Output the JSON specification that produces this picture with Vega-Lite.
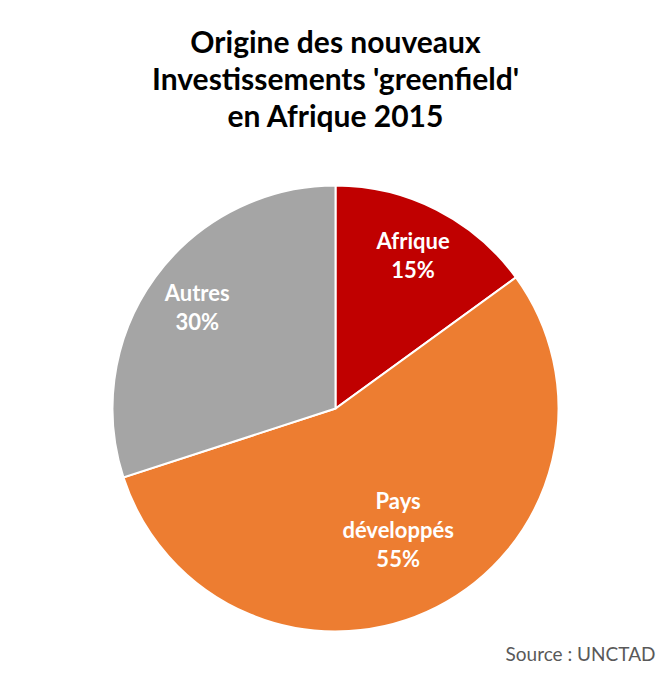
{
  "$schema": "https://vega.github.io/schema/vega-lite/v6.json",
  "autosize": {"type": "none"},
  "width": 447,
  "height": 447,
  "padding": {"left": 112, "top": 185, "right": 104, "bottom": 50},
  "background": "white",
  "config": {"view": {"stroke": null}},
  "title": {
    "text": ["Origine des nouveaux", "Investissements 'greenfield'", "en Afrique 2015"],
    "font": "Lato",
    "fontSize": 30,
    "fontWeight": "bold",
    "color": "#000000",
    "lineHeight": 37,
    "anchor": "middle",
    "offset": 49
  },
  "data": {
    "values": [
      {"cat": "Afrique", "value": 15, "rank": 1, "label": "Afrique\n15%"},
      {"cat": "Pays développés", "value": 55, "rank": 2, "label": "Pays\ndéveloppés\n55%"},
      {"cat": "Autres", "value": 30, "rank": 3, "label": "Autres\n30%"}
    ]
  },
  "layer": [
    {
      "mark": {"type": "arc", "radius": 223, "stroke": "white", "strokeWidth": 2},
      "encoding": {
        "theta": {"field": "value", "type": "quantitative", "stack": true},
        "order": {"field": "rank", "type": "quantitative"},
        "color": {
          "field": "cat",
          "type": "nominal",
          "scale": {"domain": ["Afrique", "Pays développés", "Autres"], "range": ["#C00000", "#ED7D31", "#A5A5A5"]},
          "legend": null
        }
      }
    },
    {
      "mark": {"type": "text", "font": "Lato", "fontSize": 22, "fontWeight": "bold", "fill": "white", "lineBreak": "\n", "lineHeight": 29, "align": "center", "baseline": "middle", "radius": 171, "dy": -14},
      "encoding": {
        "theta": {"field": "value", "type": "quantitative", "stack": true},
        "order": {"field": "rank", "type": "quantitative"},
        "opacity": {"condition": {"test": "datum.cat === 'Pays développés'", "value": 0}, "value": 1},
        "text": {"field": "label", "type": "nominal"}
      }
    },
    {
      "mark": {"type": "text", "font": "Lato", "fontSize": 22, "fontWeight": "bold", "fill": "white", "lineBreak": "\n", "lineHeight": 29, "align": "center", "baseline": "middle", "radius": 138, "dy": -29},
      "encoding": {
        "theta": {"field": "value", "type": "quantitative", "stack": true},
        "order": {"field": "rank", "type": "quantitative"},
        "opacity": {"condition": {"test": "datum.cat === 'Pays développés'", "value": 1}, "value": 0},
        "text": {"field": "label", "type": "nominal"}
      }
    },
    {
      "mark": {"type": "rule", "opacity": 0},
      "encoding": {
        "x": {
          "field": "value",
          "type": "quantitative",
          "axis": {
            "title": "Source : UNCTAD",
            "labels": false,
            "ticks": false,
            "domain": false,
            "grid": false,
            "titleFont": "Lato",
            "titleFontSize": 19,
            "titleFontWeight": "normal",
            "titleColor": "#595959",
            "titleAlign": "right",
            "titleBaseline": "alphabetic",
            "titleX": 543,
            "titleY": 28
          }
        }
      }
    }
  ]
}
